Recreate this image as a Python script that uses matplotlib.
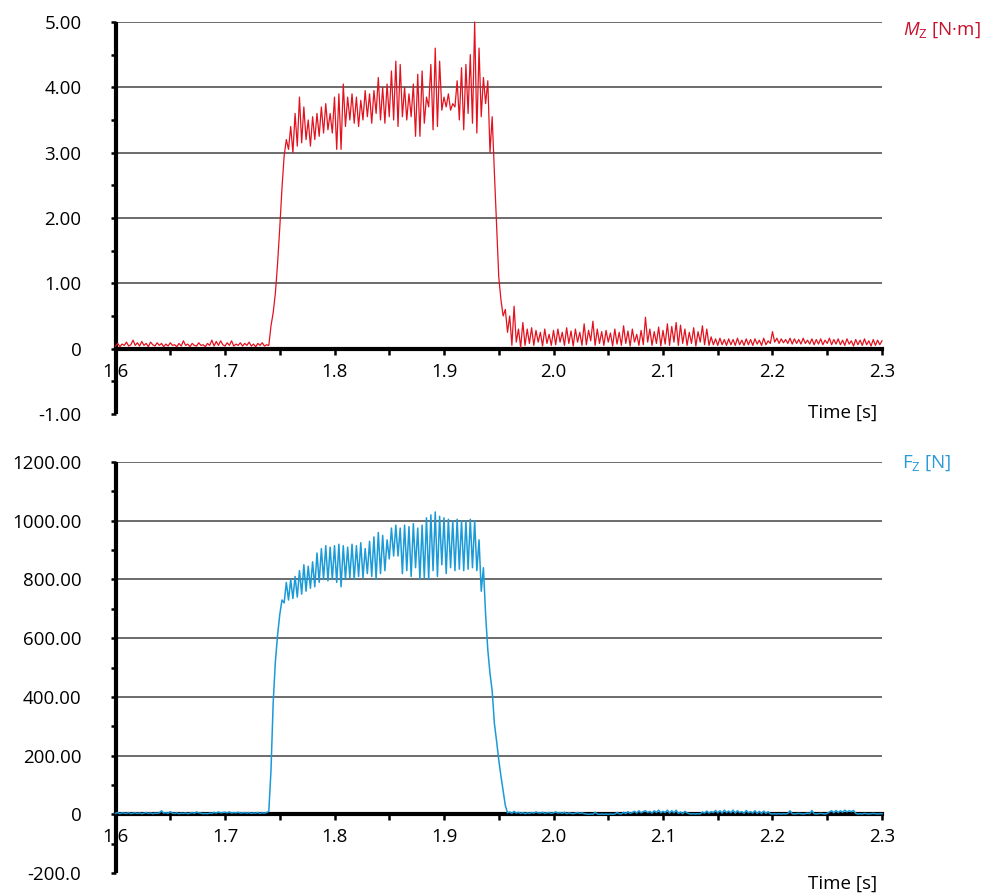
import matplotlib
matplotlib.use("Agg")
import matplotlib.pyplot as plt
import numpy as np
from matplotlib.ticker import MultipleLocator

plt.rcParams["font.family"] = ["Open Sans", "DejaVu Sans"]
plt.rcParams["mathtext.fontset"] = "custom"
plt.rcParams["mathtext.rm"] = "Open Sans"
plt.rcParams["mathtext.it"] = "Open Sans:italic"
plt.rcParams["axes.unicode_minus"] = False

# sample times (2 ms step, 1.600 ... 2.300 s)
time_s = np.round(np.arange(351) * 0.002 + 1.6, 3)

# torque Mz [N·m], one row = 20 ms
mz = [
    0.04, 0.08, 0.03, 0.07, 0.05, 0.10, 0.04, 0.06, 0.13, 0.05,
    0.09, 0.04, 0.11, 0.05, 0.08, 0.03, 0.10, 0.06, 0.04, 0.09,
    0.05, 0.08, 0.03, 0.07, 0.04, 0.09, 0.05, 0.06, 0.03, 0.08,
    0.04, 0.12, 0.05, 0.07, 0.03, 0.08, 0.05, 0.04, 0.09, 0.05,
    0.06, 0.03, 0.08, 0.05, 0.13, 0.04, 0.11, 0.05, 0.12, 0.06,
    0.04, 0.09, 0.05, 0.12, 0.04, 0.07, 0.05, 0.09, 0.04, 0.08,
    0.05, 0.10, 0.04, 0.07, 0.03, 0.08, 0.05, 0.09, 0.04, 0.06,
    0.05, 0.35, 0.55, 0.85, 1.30, 1.85, 2.45, 2.95, 3.20, 3.05,
    3.40, 3.00, 3.60, 3.10, 3.85, 3.15, 3.70, 3.20, 3.50, 3.10,
    3.55, 3.20, 3.60, 3.25, 3.70, 3.30, 3.75, 3.35, 3.60, 3.30,
    3.85, 3.05, 3.90, 3.05, 4.05, 3.40, 3.85, 3.50, 3.90, 3.45,
    3.85, 3.40, 3.80, 3.50, 3.95, 3.55, 3.90, 3.45, 3.95, 3.60,
    4.15, 3.50, 4.00, 3.45, 4.05, 3.55, 4.25, 3.50, 4.40, 3.40,
    4.35, 3.55, 4.00, 3.50, 3.90, 3.55, 4.05, 3.25, 4.20, 3.25,
    4.25, 3.45, 3.85, 3.70, 4.35, 3.35, 4.60, 3.40, 4.40, 3.65,
    3.85, 3.70, 3.90, 3.65, 3.75, 3.70, 4.10, 3.50, 4.30, 3.35,
    4.35, 3.60, 4.50, 3.45, 5.00, 3.30, 4.60, 3.55, 4.15, 3.75,
    4.10, 3.00, 3.55, 2.70, 1.90, 1.10, 0.75, 0.50, 0.60, 0.25,
    0.50, 0.05, 0.65, 0.10, 0.30, 0.02, 0.40, 0.05, 0.30, 0.08,
    0.32, 0.05, 0.28, 0.10, 0.25, 0.04, 0.30, 0.08, 0.22, 0.05,
    0.28, 0.06, 0.30, 0.10, 0.25, 0.05, 0.32, 0.08, 0.27, 0.04,
    0.30, 0.10, 0.25, 0.05, 0.38, 0.06, 0.28, 0.12, 0.42, 0.05,
    0.30, 0.08, 0.26, 0.05, 0.28, 0.10, 0.24, 0.04, 0.30, 0.07,
    0.25, 0.05, 0.35, 0.08, 0.27, 0.04, 0.30, 0.10, 0.22, 0.05,
    0.28, 0.06, 0.48, 0.10, 0.30, 0.05, 0.26, 0.08, 0.33, 0.04,
    0.28, 0.07, 0.38, 0.05, 0.34, 0.10, 0.40, 0.05, 0.36, 0.08,
    0.30, 0.05, 0.25, 0.08, 0.32, 0.04, 0.26, 0.10, 0.35, 0.06,
    0.30, 0.05, 0.18, 0.06, 0.15, 0.05, 0.16, 0.06, 0.14, 0.05,
    0.15, 0.06, 0.14, 0.05, 0.16, 0.06, 0.13, 0.05, 0.15, 0.06,
    0.14, 0.05, 0.15, 0.07, 0.13, 0.05, 0.16, 0.06, 0.12, 0.08,
    0.26, 0.10, 0.16, 0.08, 0.15, 0.09, 0.14, 0.08, 0.16, 0.07,
    0.15, 0.08, 0.14, 0.07, 0.16, 0.08, 0.13, 0.07, 0.15, 0.06,
    0.14, 0.07, 0.15, 0.06, 0.13, 0.08, 0.16, 0.06, 0.14, 0.07,
    0.15, 0.06, 0.13, 0.05, 0.15, 0.07, 0.12, 0.04, 0.14, 0.06,
    0.13, 0.05, 0.15, 0.06, 0.12, 0.04, 0.14, 0.05, 0.13, 0.06,
    0.12,
]

# force Fz [N]
fz = [
    3, 6, 2, 5, 4, 3, 6, 2, 4, 5,
    3, 5, 2, 4, 6, 3, 5, 2, 4, 3,
    5, 12, 4, 6, 3, 9, 4, 3, 5, 2,
    4, 3, 5, 2, 4, 6, 3, 8, 5, 4,
    2, 3, 2, 4, 3, 7, 4, 8, 5, 6,
    7, 5, 8, 4, 6, 5, 7, 4, 5, 6,
    4, 6, 3, 5, 4, 6, 3, 5, 4, 6,
    10, 150, 380, 520, 610, 680, 730, 720, 790, 730,
    800, 735, 810, 740, 830, 750, 850, 760, 845, 770,
    860, 775, 890, 790, 905, 800, 915, 795, 910, 800,
    915, 790, 920, 775, 915, 800, 910, 805, 920, 800,
    915, 810, 925, 805, 905, 820, 930, 810, 945, 800,
    960, 820, 950, 830, 935, 870, 975, 880, 985, 880,
    975, 820, 985, 830, 980, 810, 990, 840, 975, 800,
    985, 805, 1010, 800, 1020, 830, 1030, 810, 1015, 850,
    1010, 820, 1005, 840, 1000, 830, 1005, 835, 1000, 830,
    1000, 835, 1005, 840, 1000, 830, 935, 760, 840, 680,
    560, 480, 420, 310, 250, 185, 130, 80, 30, 5,
    8, 3, 10, 4, 7, 3, 6, 2, 5, 3,
    6, 4, 8, 5, 4, 7, 3, 5, 6, 3,
    5, 8, 4, 6, 3, 7, 2, 5, 3, 2,
    4, 6, 3, 5, 2, 1, 0, 1, 0, 7,
    1, 0, 1, 0, 1, 0, 1, 0, 1, 6,
    2, 1, 7, 2, 9, 3, 6, 10, 4, 12,
    5, 9, 12, 6, 10, 4, 12, 6, 14, 5,
    10, 6, 14, 4, 12, 5, 14, 3, 8, 2,
    10, 5, 2, 1, 2, 1, 2, 1, 8, 4,
    11, 4, 9, 6, 13, 5, 12, 4, 14, 6,
    11, 5, 14, 4, 12, 6, 9, 3, 13, 5,
    9, 4, 12, 3, 10, 2, 11, 3, 9, 2,
    1, 2, 1, 2, 1, 2, 1, 3, 12, 2,
    1, 2, 3, 2, 1, 2, 4, 2, 13, 2,
    1, 2, 3, 2, 1, 3, 8, 12, 5, 13,
    6, 12, 7, 14, 8, 12, 9, 13, 3, 1,
    2, 1, 3, 2, 1, 2, 3, 2, 1, 2,
    2,
]

mz_ticks = [-1, 0, 1, 2, 3, 4, 5]
mz_labels = ["-1.00", "0", "1.00", "2.00", "3.00", "4.00", "5.00"]
fz_ticks = [-200, 0, 200, 400, 600, 800, 1000, 1200]
fz_labels = ["-200.0", "0", "200.00", "400.00", "600.00", "800.00", "1000.00", "1200.00"]
time_ticks = [1.6, 1.7, 1.8, 1.9, 2.0, 2.1, 2.2, 2.3]
time_labels = ["1.6", "1.7", "1.8", "1.9", "2.0", "2.1", "2.2", "2.3"]

RED = "#e3121f"
BLUE = "#1b9ad8"
FS = 13.5


def style_axes(ax, yticks, ylabels, minor):
    ax.set_xlim(1.6, 2.3)
    ax.set_ylim(yticks[0], yticks[-1])
    for side in ("top", "right"):
        ax.spines[side].set_visible(False)
    ax.spines["left"].set_linewidth(3.0)
    ax.spines["bottom"].set_linewidth(3.0)
    ax.spines["bottom"].set_position(("data", 0))
    ax.spines["left"].set_capstyle("butt")
    ax.set_yticks(yticks)
    ax.set_yticklabels(ylabels)
    ax.yaxis.set_minor_locator(MultipleLocator(minor))
    ax.set_xticks(time_ticks)
    ax.set_xticklabels(time_labels)
    ax.xaxis.set_minor_locator(MultipleLocator(0.05))
    ax.tick_params(axis="y", which="both", direction="out", length=3.5,
                   width=1.8, pad=21, labelsize=FS)
    ax.tick_params(axis="x", which="both", direction="out", length=4,
                   width=1.8, pad=6, labelsize=FS)
    grid_levels = [v for v in yticks if v > 0]
    ax.hlines(grid_levels, 1.6, 2.3, color="#6b6b6b", linewidth=1.4, zorder=1)
    ax.set_facecolor("white")


fig = plt.figure(figsize=(9.89, 8.93), dpi=100)
ax_top = fig.add_axes([0.1168, 0.5364, 0.775, 0.439])
ax_bot = fig.add_axes([0.1168, 0.0224, 0.775, 0.4602])

style_axes(ax_top, mz_ticks, mz_labels, 0.5)
ax_top.plot(time_s, mz, color=RED, linewidth=0.9, zorder=3, clip_on=False)

style_axes(ax_bot, fz_ticks, fz_labels, 100)
ax_bot.plot(time_s, fz, color=BLUE, linewidth=1.1, zorder=3, clip_on=False)

fig.text(0.913, 0.966, r"$M_\mathrm{Z}$ [N·m]", color="#c8102e",
         fontsize=FS, va="center", ha="left")
fig.text(0.912, 0.4815, r"F$_\mathrm{Z}$ [N]", color="#2a9ad8",
         fontsize=FS, va="center", ha="left")
fig.text(0.887, 0.5375, "Time [s]", fontsize=FS, ha="right", va="center")
fig.text(0.887, 0.010, "Time [s]", fontsize=FS, ha="right", va="center")

fig.savefig("out.png", dpi=100, facecolor="white")
plt.close(fig)
